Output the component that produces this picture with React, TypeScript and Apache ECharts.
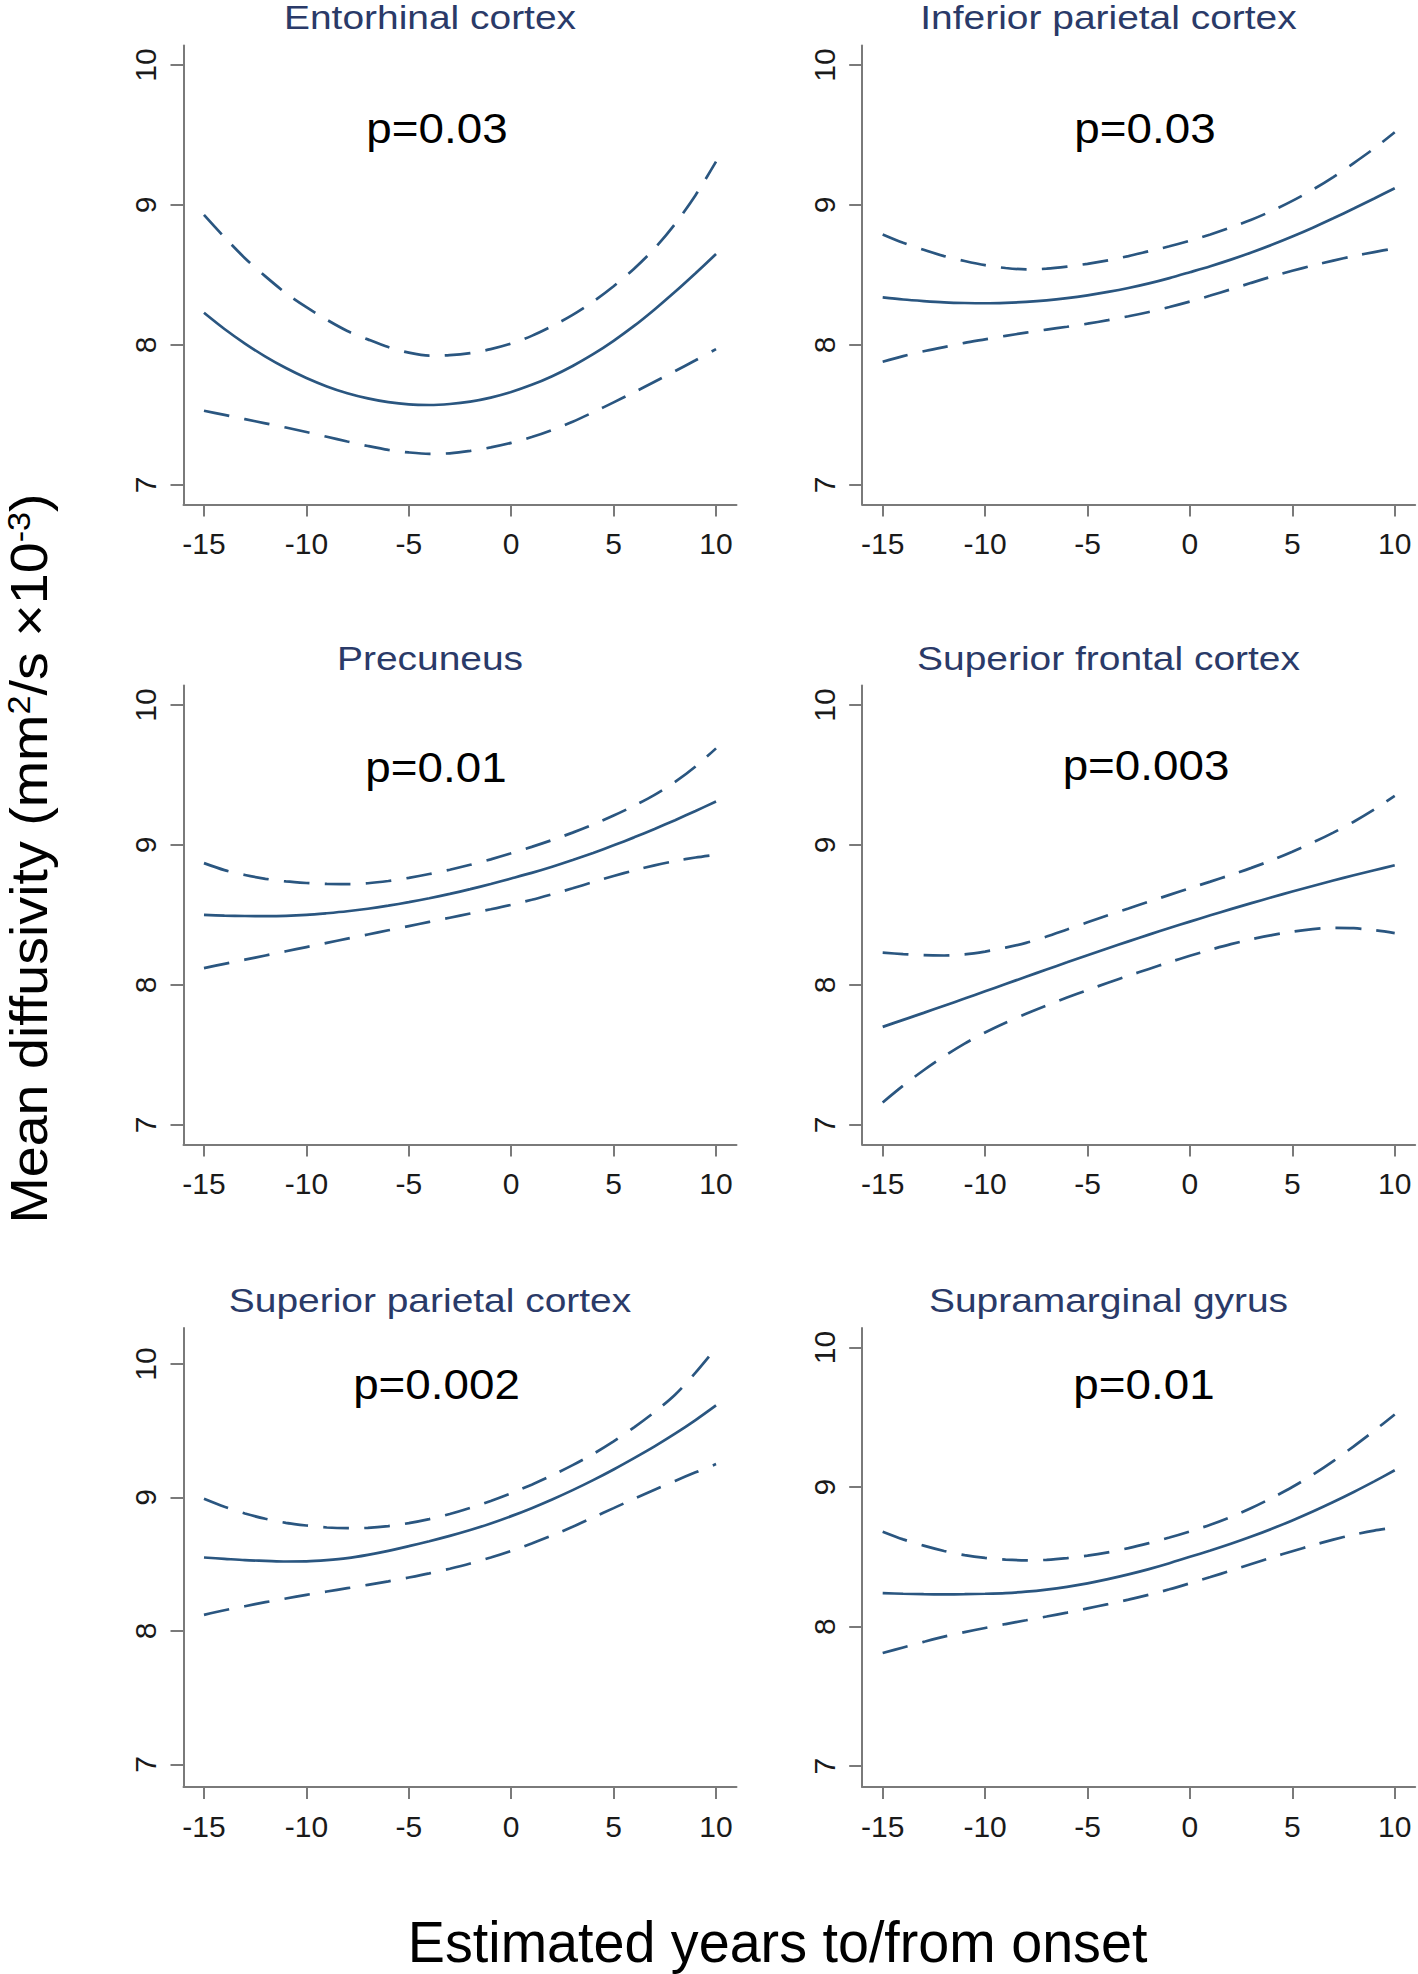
import React, { useEffect, useRef } from "react";
import * as echarts from "echarts";

// ---------- data ----------
const years = [-15, -14, -13, -12, -11, -10, -9, -8, -7, -6, -5, -4, -3, -2, -1, 0, 1, 2, 3, 4, 5, 6, 7, 8, 9, 10];
const xTickValues = [-15, -10, -5, 0, 5, 10];
const yTickValues = [7, 8, 9, 10];

const panelTitles = [
  "Entorhinal cortex",
  "Inferior parietal cortex",
  "Precuneus",
  "Superior frontal cortex",
  "Superior parietal cortex",
  "Supramarginal gyrus",
];
const pValues = ["p=0.03", "p=0.03", "p=0.01", "p=0.003", "p=0.002", "p=0.01"];

const entorhinalFit = [8.23, 8.114, 8.01, 7.917, 7.835, 7.764, 7.704, 7.655, 7.618, 7.591, 7.575, 7.571, 7.578, 7.595, 7.624, 7.664, 7.715, 7.777, 7.85, 7.934, 8.03, 8.136, 8.254, 8.38, 8.513, 8.65];
const entorhinalUpper = [8.93, 8.77, 8.62, 8.49, 8.37, 8.27, 8.18, 8.1, 8.04, 7.985, 7.945, 7.924, 7.927, 7.942, 7.97, 8.01, 8.065, 8.135, 8.215, 8.31, 8.42, 8.545, 8.69, 8.865, 9.07, 9.31];
const entorhinalLower = [7.53, 7.5, 7.47, 7.44, 7.41, 7.378, 7.344, 7.31, 7.278, 7.25, 7.232, 7.222, 7.226, 7.243, 7.268, 7.3, 7.342, 7.393, 7.452, 7.519, 7.59, 7.662, 7.737, 7.813, 7.891, 7.97];

const infParietalFit = [8.34, 8.325, 8.314, 8.305, 8.3, 8.298, 8.301, 8.308, 8.319, 8.335, 8.355, 8.379, 8.407, 8.44, 8.478, 8.52, 8.563, 8.61, 8.661, 8.716, 8.775, 8.838, 8.905, 8.975, 9.047, 9.12];
const infParietalUpper = [8.79, 8.73, 8.68, 8.635, 8.6, 8.57, 8.55, 8.54, 8.545, 8.56, 8.58, 8.605, 8.635, 8.67, 8.705, 8.745, 8.79, 8.84, 8.895, 8.958, 9.03, 9.11, 9.2, 9.3, 9.405, 9.52];
const infParietalLower = [7.88, 7.92, 7.955, 7.985, 8.015, 8.04, 8.065, 8.088, 8.11, 8.13, 8.152, 8.177, 8.205, 8.236, 8.271, 8.31, 8.353, 8.398, 8.444, 8.489, 8.53, 8.568, 8.603, 8.635, 8.664, 8.69];

const precuneusFit = [8.5, 8.495, 8.492, 8.491, 8.493, 8.5, 8.512, 8.526, 8.544, 8.566, 8.591, 8.619, 8.65, 8.684, 8.721, 8.76, 8.8, 8.844, 8.892, 8.943, 8.997, 9.054, 9.114, 9.177, 9.243, 9.31];
const precuneusUpper = [8.87, 8.82, 8.785, 8.758, 8.739, 8.728, 8.721, 8.72, 8.726, 8.742, 8.765, 8.792, 8.823, 8.858, 8.897, 8.94, 8.986, 9.035, 9.088, 9.146, 9.21, 9.28, 9.358, 9.45, 9.56, 9.69];
const precuneusLower = [8.12, 8.15, 8.18, 8.21, 8.24, 8.27, 8.3, 8.33, 8.36, 8.39, 8.42, 8.45, 8.48, 8.51, 8.54, 8.572, 8.608, 8.648, 8.69, 8.735, 8.778, 8.818, 8.854, 8.885, 8.91, 8.93];

const supFrontalFit = [7.7, 7.75, 7.8, 7.851, 7.902, 7.954, 8.006, 8.058, 8.11, 8.161, 8.212, 8.262, 8.311, 8.359, 8.406, 8.452, 8.497, 8.541, 8.584, 8.626, 8.667, 8.707, 8.746, 8.783, 8.819, 8.855];
const supFrontalUpper = [8.23, 8.22, 8.212, 8.21, 8.218, 8.238, 8.266, 8.3, 8.345, 8.396, 8.447, 8.497, 8.546, 8.595, 8.643, 8.691, 8.738, 8.786, 8.836, 8.891, 8.952, 9.017, 9.088, 9.166, 9.253, 9.35];
const supFrontalLower = [7.16, 7.28, 7.39, 7.49, 7.58, 7.66, 7.73, 7.793, 7.852, 7.909, 7.963, 8.015, 8.065, 8.114, 8.162, 8.208, 8.251, 8.291, 8.326, 8.356, 8.38, 8.398, 8.408, 8.405, 8.391, 8.37];

const supParietalFit = [8.55, 8.54, 8.53, 8.525, 8.52, 8.521, 8.53, 8.545, 8.57, 8.6, 8.635, 8.672, 8.712, 8.756, 8.805, 8.86, 8.92, 8.985, 9.055, 9.13, 9.21, 9.295, 9.383, 9.478, 9.58, 9.69];
const supParietalUpper = [8.99, 8.93, 8.88, 8.84, 8.81, 8.79, 8.775, 8.77, 8.772, 8.785, 8.808, 8.838, 8.876, 8.922, 8.974, 9.032, 9.096, 9.166, 9.242, 9.326, 9.42, 9.525, 9.64, 9.77, 9.935, 10.12];
const supParietalLower = [8.12, 8.155, 8.185, 8.215, 8.243, 8.27, 8.295, 8.32, 8.345, 8.371, 8.4, 8.431, 8.466, 8.505, 8.55, 8.6, 8.655, 8.715, 8.78, 8.85, 8.92, 8.99, 9.058, 9.124, 9.188, 9.25];

const supramarginalFit = [8.24, 8.235, 8.232, 8.231, 8.232, 8.235, 8.24, 8.25, 8.265, 8.285, 8.31, 8.34, 8.374, 8.412, 8.454, 8.5, 8.545, 8.593, 8.645, 8.701, 8.761, 8.825, 8.893, 8.965, 9.041, 9.12];
const supramarginalUpper = [8.68, 8.625, 8.58, 8.542, 8.512, 8.492, 8.48, 8.475, 8.478, 8.49, 8.508, 8.532, 8.562, 8.598, 8.638, 8.682, 8.73, 8.786, 8.85, 8.922, 9.0, 9.088, 9.186, 9.292, 9.404, 9.52];
const supramarginalLower = [7.81, 7.85, 7.89, 7.928, 7.96, 7.99, 8.018, 8.045, 8.072, 8.1, 8.13, 8.161, 8.193, 8.228, 8.267, 8.31, 8.355, 8.401, 8.448, 8.495, 8.54, 8.583, 8.623, 8.659, 8.688, 8.71];

const fits = [entorhinalFit, infParietalFit, precuneusFit, supFrontalFit, supParietalFit, supramarginalFit];
const uppers = [entorhinalUpper, infParietalUpper, precuneusUpper, supFrontalUpper, supParietalUpper, supramarginalUpper];
const lowers = [entorhinalLower, infParietalLower, precuneusLower, supFrontalLower, supParietalLower, supramarginalLower];

const xAxisTitle = "Estimated years to/from onset";

// ---------- layout / style ----------
const W = 1418;
const H = 1974;
const FONT = '"Liberation Sans", Arial, Helvetica, sans-serif';
const NAVY = "#2a3a68";
const LINE = "#2a5680";
const AXIS = "#7a7a7a";
const colLeft = [183.5, 862.2];
const gridWidth = 553;
const rowTop = [45.5, 685.4, 1328];
const gridHeight = 459;
const xRange = [-16, 11];
const yRanges = [
  [6.86, 10.14],
  [6.86, 10.14],
  [6.86, 10.14],
  [6.86, 10.14],
  [6.83, 10.27],
  [6.85, 10.14],
];
const titleX = [430, 1108.5];
const titleY = [18, 659, 1301];
const pPos = [
  [437, 128],
  [1145, 128],
  [436, 767],
  [1146, 765.5],
  [436.5, 1384.5],
  [1144, 1384],
];

function buildOption() {
  const grid: any[] = [];
  const xAxis: any[] = [];
  const yAxis: any[] = [];
  const series: any[] = [];
  const graphic: any[] = [];

  for (let i = 0; i < 6; i++) {
    const col = i % 2;
    const row = Math.floor(i / 2);
    grid.push({
      left: colLeft[col],
      top: rowTop[row],
      width: gridWidth,
      height: gridHeight,
      containLabel: false,
      outerBoundsMode: "none",
    });
    xAxis.push({
      type: "value",
      gridIndex: i,
      min: xRange[0],
      max: xRange[1],
      splitLine: { show: false },
      axisLine: { show: true, onZero: false, lineStyle: { color: AXIS, width: 2 } },
      axisTick: {
        show: true,
        length: 12,
        customValues: xTickValues,
        lineStyle: { color: AXIS, width: 2 },
      },
      axisLabel: {
        customValues: xTickValues,
        margin: 24,
        fontSize: 30,
        fontFamily: FONT,
        color: "#1a1a1a",
      },
    });
    yAxis.push({
      type: "value",
      gridIndex: i,
      min: yRanges[i][0],
      max: yRanges[i][1],
      splitLine: { show: false },
      axisLine: { show: true, onZero: false, lineStyle: { color: AXIS, width: 2 } },
      axisTick: {
        show: true,
        length: 13,
        customValues: yTickValues,
        lineStyle: { color: AXIS, width: 2 },
      },
      axisLabel: {
        customValues: yTickValues,
        rotate: 90,
        margin: 23,
        fontSize: 30,
        fontFamily: FONT,
        color: "#1a1a1a",
      },
    });

    const mk = (arr: number[]) => years.map((x, j) => [x, arr[j]]);
    const base = {
      type: "line",
      xAxisIndex: i,
      yAxisIndex: i,
      showSymbol: false,
      symbol: "none",
      smooth: 0.3,
      silent: true,
    };
    series.push({
      ...base,
      name: panelTitles[i] + " upper",
      data: mk(uppers[i]),
      lineStyle: { color: LINE, width: 2.7, type: [26, 15] },
    });
    series.push({
      ...base,
      name: panelTitles[i] + " fit",
      data: mk(fits[i]),
      lineStyle: { color: LINE, width: 2.7, type: "solid" },
    });
    series.push({
      ...base,
      name: panelTitles[i] + " lower",
      data: mk(lowers[i]),
      lineStyle: { color: LINE, width: 2.7, type: [26, 15] },
    });

    graphic.push({
      type: "text",
      x: titleX[col],
      y: titleY[row],
      scaleX: 1.18,
      style: {
        text: panelTitles[i],
        fontSize: 33,
        fontFamily: FONT,
        fill: NAVY,
        align: "center",
        verticalAlign: "middle",
        textAlign: "center",
        textVerticalAlign: "middle",
      },
    });
    graphic.push({
      type: "text",
      x: pPos[i][0],
      y: pPos[i][1],
      scaleX: 1.09,
      style: {
        text: pValues[i],
        fontSize: 42,
        fontFamily: FONT,
        fill: "#000000",
        align: "center",
        verticalAlign: "middle",
        textAlign: "center",
        textVerticalAlign: "middle",
      },
    });
  }

  graphic.push({
    type: "text",
    x: 777.6,
    y: 1942,
    scaleX: 0.96,
    style: {
      text: xAxisTitle,
      fontSize: 58,
      fontFamily: FONT,
      fill: "#000000",
      align: "center",
      verticalAlign: "middle",
      textAlign: "center",
      textVerticalAlign: "middle",
    },
  });
  graphic.push({
    type: "text",
    x: 29,
    y: 858.5,
    rotation: Math.PI / 2,
    scaleX: 1.07,
    style: {
      text: "{a|Mean diffusivity (mm}{s|2}{a|/s \u00d710}{s|-3}{a|)}",
      rich: {
        a: { fontSize: 52, fontFamily: FONT, fill: "#000000" },
        s: { fontSize: 32, fontFamily: FONT, fill: "#000000", verticalAlign: "top" },
      },
      fill: "#000000",
      align: "center",
      verticalAlign: "middle",
      textAlign: "center",
      textVerticalAlign: "middle",
    },
  });

  return {
    animation: false,
    backgroundColor: "#ffffff",
    grid,
    xAxis,
    yAxis,
    series,
    graphic,
  };
}

export default function App() {
  const ref = useRef<HTMLDivElement>(null);
  useEffect(() => {
    if (!ref.current) return;
    const chart = echarts.init(ref.current, undefined, { renderer: "svg" });
    chart.setOption(buildOption() as any);
    return () => {
      chart.dispose();
    };
  }, []);
  return (
    <div
      ref={ref}
      style={{ position: "absolute", left: 0, top: 0, width: W, height: H }}
    />
  );
}
